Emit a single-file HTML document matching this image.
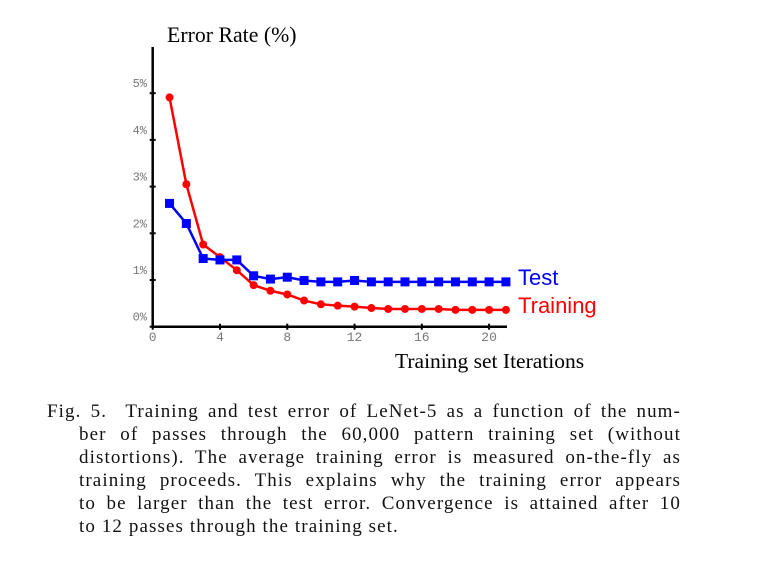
<!DOCTYPE html>
<html><head><meta charset="utf-8"><style>
body{margin:0;background:#fff;}
#c{position:relative;width:758px;height:577px;overflow:hidden;background:#fff;}
.cap{position:absolute;font-family:"Liberation Serif",serif;font-size:19px;color:#111;white-space:nowrap;letter-spacing:1.1px;}
.j{text-align:justify;text-align-last:justify;white-space:normal;height:23px;overflow:hidden;}
</style></head><body>
<div id="c">
<svg id="chart" width="758" height="390" style="position:absolute;left:0;top:0"></svg>
<div class="cap j" style="left:47px;top:401px;width:634px">Fig. 5. &nbsp;Training and test error of LeNet-5 as a function of the num-</div>
<div class="cap j" style="left:79px;top:424px;width:602px">ber of passes through the 60,000 pattern training set (without</div>
<div class="cap j" style="left:79px;top:447px;width:602px">distortions). The average training error is measured on-the-fly as</div>
<div class="cap j" style="left:79px;top:470px;width:602px">training proceeds. This explains why the training error appears</div>
<div class="cap j" style="left:79px;top:493px;width:602px">to be larger than the test error. Convergence is attained after 10</div>
<div class="cap" style="left:79px;top:516px">to 12 passes through the training set.</div>
</div>
<script>
const iterations=[1,2,3,4,5,6,7,8,9,10,11,12,13,14,15,16,17,18,19,20,21];
const testErr=[2.64,2.21,1.46,1.43,1.43,1.09,1.02,1.06,0.99,0.96,0.96,0.99,0.96,0.96,0.96,0.96,0.96,0.96,0.96,0.96,0.96];
const trainErr=[4.91,3.05,1.76,1.49,1.21,0.89,0.77,0.69,0.56,0.48,0.45,0.43,0.40,0.38,0.38,0.38,0.38,0.36,0.36,0.36,0.36];
const xTicks=[0,4,8,12,16,20];
const yTicks=[0,1,2,3,4,5];
const yTickLabels=["0%","1%","2%","3%","4%","5%"];
const NS="http://www.w3.org/2000/svg";
const svg=document.getElementById('chart');
const X=v=>152.7+v*16.82;
const Y=v=>326.7-v*46.7;
function mk(tag,attrs,parent){const e=document.createElementNS(NS,tag);for(const k in attrs)e.setAttribute(k,attrs[k]);(parent||svg).appendChild(e);return e;}
let e;
e=mk('line',{x1:X(0),y1:47,x2:X(0),y2:Y(0)+1,stroke:'#000','stroke-width':2.5});

e=mk('line',{x1:X(0)-1,y1:Y(0),x2:507,y2:Y(0),stroke:'#000','stroke-width':2.5});

yTicks.forEach((v,i)=>{
 e=mk('line',{x1:X(0)-3,y1:Y(v),x2:X(0)+3,y2:Y(v),stroke:'#000','stroke-width':2});
 
 e=mk('text',{x:147,y:Y(v)-6,'text-anchor':'end','font-family':'"Liberation Mono",monospace','font-size':12,fill:'#777'});
 e.textContent=yTickLabels[i];
 
});
xTicks.forEach(v=>{
 e=mk('line',{x1:X(v),y1:Y(0)-3,x2:X(v),y2:Y(0)+3,stroke:'#000','stroke-width':2});
 
 e=mk('text',{x:X(v),y:341,'text-anchor':'middle','font-family':'"Liberation Mono",monospace','font-size':13,fill:'#777'});
 e.textContent=String(v);
 
});
e=mk('text',{x:167,y:42,'font-family':'"Liberation Serif",serif','font-size':21.8,fill:'#000'});
e.textContent='Error Rate (%)';
e=mk('text',{x:395,y:368,'font-family':'"Liberation Serif",serif','font-size':21.5,fill:'#000'});
e.textContent='Training set Iterations';
function series(vals,color,name,square){
 const g=mk('g',{});
 
 const l=mk('polyline',{points:iterations.map((t,i)=>X(t)+','+Y(vals[i])).join(' '),fill:'none',stroke:color,'stroke-width':2.5},g);
 
 iterations.forEach((t,i)=>{
  let m;
  if(square) m=mk('rect',{x:X(t)-4.5,y:Y(vals[i])-4.5,width:9,height:9,fill:color},g);
  else m=mk('circle',{cx:X(t),cy:Y(vals[i]),r:4,fill:color},g);
  
 });
}
series(trainErr,'#f00','training',false);
series(testErr,'#00f','test',true);
e=mk('text',{x:518,y:285,'font-family':'"Liberation Sans",sans-serif','font-size':22,fill:'#00f'});
e.textContent='Test';
e=mk('text',{x:518,y:313,'font-family':'"Liberation Sans",sans-serif','font-size':22,fill:'#f00'});
e.textContent='Training';
</script>
</body></html>
